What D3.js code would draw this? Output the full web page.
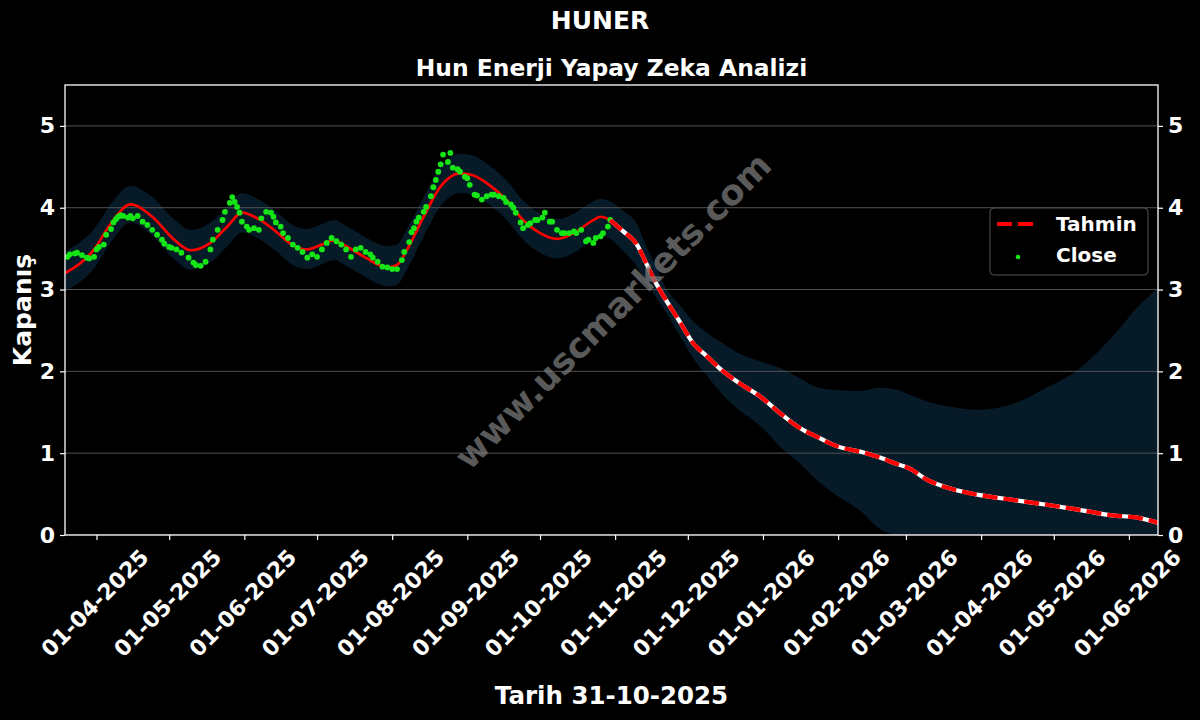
<!DOCTYPE html>
<html><head><meta charset="utf-8">
<script src="https://cdn.jsdelivr.net/npm/d3@7"></script>
<style>
body{margin:0;background:#000;}
svg{display:block;}
text{font-family:"DejaVu Sans",sans-serif;font-weight:bold;fill:#fff;}
</style>
</head><body>
<svg id="c" width="1200" height="720"></svg>
<script>
// ---------- DATA ----------
const closeDates = ["2025-03-20","2025-03-21","2025-03-23","2025-03-24","2025-03-26","2025-03-28","2025-03-29","2025-03-31","2025-04-01","2025-04-02","2025-04-04","2025-04-05","2025-04-07","2025-04-08","2025-04-09","2025-04-10","2025-04-11","2025-04-12","2025-04-14","2025-04-15","2025-04-16","2025-04-18","2025-04-20","2025-04-22","2025-04-24","2025-04-26","2025-04-28","2025-04-29","2025-05-01","2025-05-02","2025-05-04","2025-05-06","2025-05-09","2025-05-11","2025-05-12","2025-05-14","2025-05-16","2025-05-18","2025-05-19","2025-05-21","2025-05-23","2025-05-24","2025-05-26","2025-05-27","2025-05-28","2025-05-29","2025-05-30","2025-05-31","2025-06-02","2025-06-03","2025-06-05","2025-06-07","2025-06-08","2025-06-10","2025-06-12","2025-06-13","2025-06-14","2025-06-16","2025-06-17","2025-06-19","2025-06-21","2025-06-23","2025-06-25","2025-06-27","2025-06-29","2025-07-01","2025-07-03","2025-07-05","2025-07-07","2025-07-09","2025-07-11","2025-07-13","2025-07-15","2025-07-17","2025-07-19","2025-07-21","2025-07-23","2025-07-24","2025-07-26","2025-07-28","2025-07-30","2025-08-01","2025-08-03","2025-08-05","2025-08-06","2025-08-08","2025-08-09","2025-08-10","2025-08-11","2025-08-12","2025-08-14","2025-08-15","2025-08-17","2025-08-18","2025-08-19","2025-08-20","2025-08-21","2025-08-22","2025-08-24","2025-08-25","2025-08-26","2025-08-28","2025-08-29","2025-08-31","2025-09-01","2025-09-02","2025-09-04","2025-09-05","2025-09-07","2025-09-09","2025-09-11","2025-09-12","2025-09-14","2025-09-16","2025-09-17","2025-09-19","2025-09-20","2025-09-21","2025-09-23","2025-09-24","2025-09-26","2025-09-27","2025-09-29","2025-09-30","2025-10-02","2025-10-03","2025-10-05","2025-10-06","2025-10-08","2025-10-10","2025-10-11","2025-10-13","2025-10-15","2025-10-16","2025-10-18","2025-10-20","2025-10-21","2025-10-23","2025-10-24","2025-10-26","2025-10-27","2025-10-29","2025-10-30"];
const closeValues = [3.40,3.43,3.44,3.45,3.42,3.39,3.38,3.40,3.49,3.52,3.55,3.67,3.74,3.82,3.86,3.89,3.91,3.90,3.88,3.90,3.87,3.90,3.83,3.79,3.73,3.67,3.61,3.56,3.52,3.51,3.49,3.45,3.39,3.33,3.30,3.29,3.34,3.49,3.61,3.73,3.85,3.95,4.06,4.13,4.07,4.01,3.94,3.83,3.77,3.73,3.75,3.73,3.87,3.95,3.94,3.89,3.82,3.77,3.69,3.63,3.55,3.51,3.46,3.39,3.43,3.40,3.49,3.57,3.63,3.59,3.55,3.49,3.40,3.49,3.51,3.46,3.43,3.39,3.34,3.28,3.27,3.25,3.25,3.36,3.46,3.58,3.70,3.75,3.83,3.88,3.95,4.01,4.14,4.25,4.34,4.44,4.53,4.65,4.56,4.67,4.49,4.47,4.44,4.38,4.36,4.28,4.16,4.15,4.10,4.14,4.16,4.16,4.14,4.12,4.07,4.04,4.00,3.94,3.82,3.75,3.79,3.81,3.85,3.85,3.88,3.94,3.83,3.83,3.73,3.69,3.69,3.69,3.71,3.69,3.73,3.59,3.61,3.57,3.63,3.65,3.69,3.77,3.85];

const fitDates = ["2025-03-19","2025-03-31","2025-04-07","2025-04-15","2025-04-24","2025-05-03","2025-05-10","2025-05-18","2025-05-25","2025-05-31","2025-06-07","2025-06-14","2025-06-21","2025-06-27","2025-07-03","2025-07-08","2025-07-13","2025-07-21","2025-07-30","2025-08-03","2025-08-07","2025-08-14","2025-08-21","2025-08-29","2025-09-03","2025-09-10","2025-09-17","2025-09-24","2025-10-01","2025-10-08","2025-10-15","2025-10-22","2025-10-26","2025-10-30"];
const fitValues = [3.20,3.49,3.81,4.04,3.89,3.61,3.48,3.57,3.77,3.94,3.86,3.71,3.54,3.49,3.55,3.60,3.53,3.39,3.27,3.30,3.48,3.89,4.26,4.42,4.40,4.28,4.10,3.85,3.69,3.62,3.69,3.83,3.89,3.85];
const fitUpper = [3.47,3.74,4.05,4.27,4.13,3.86,3.73,3.82,4.01,4.18,4.10,3.96,3.79,3.74,3.80,3.85,3.78,3.64,3.53,3.55,3.73,4.13,4.50,4.66,4.64,4.52,4.34,4.09,3.93,3.86,3.93,4.06,4.11,4.08];
const fitLower = [2.98,3.26,3.58,3.82,3.66,3.37,3.24,3.33,3.53,3.70,3.62,3.47,3.30,3.25,3.31,3.36,3.29,3.15,3.04,3.06,3.24,3.65,4.02,4.18,4.16,4.04,3.86,3.61,3.45,3.38,3.45,3.59,3.65,3.62];

const forecastDates = ["2025-10-30","2025-11-04","2025-11-10","2025-11-14","2025-11-18","2025-11-22","2025-11-28","2025-12-03","2025-12-09","2025-12-14","2025-12-22","2025-12-31","2026-01-08","2026-01-16","2026-01-24","2026-02-01","2026-02-10","2026-02-18","2026-02-26","2026-03-02","2026-03-10","2026-03-19","2026-03-31","2026-04-14","2026-04-28","2026-05-11","2026-05-25","2026-06-05","2026-06-13"];
const forecastValues = [3.85,3.72,3.55,3.31,3.07,2.87,2.59,2.35,2.18,2.04,1.86,1.69,1.49,1.31,1.19,1.08,1.02,0.95,0.86,0.82,0.67,0.57,0.49,0.43,0.37,0.31,0.24,0.21,0.15];
const forecastUpper = [4.08,3.97,3.80,3.52,3.27,3.02,2.80,2.62,2.47,2.37,2.22,2.12,2.04,1.92,1.80,1.77,1.76,1.80,1.77,1.72,1.63,1.57,1.53,1.60,1.80,2.02,2.42,2.80,3.02];
const forecastLower = [3.62,3.48,3.28,3.08,2.90,2.72,2.42,2.17,1.94,1.76,1.53,1.33,1.08,0.88,0.65,0.47,0.30,0.08,0,0,0,0,0,0,0,0,0,0,0];

const yTicks = [0,1,2,3,4,5];
const xTickDates = ["2025-04-01","2025-05-01","2025-06-01","2025-07-01","2025-08-01","2025-09-01","2025-10-01","2025-11-01","2025-12-01","2026-01-01","2026-02-01","2026-03-01","2026-04-01","2026-05-01","2026-06-01"];
const xDomain = ["2025-03-19","2026-06-13"];
const yDomain = [0, 5.5];

const titleText = "HUNER";
const subtitleText = "Hun Enerji Yapay Zeka Analizi";
const xLabelText = "Tarih 31-10-2025";
const yLabelText = "Kapanış";
const legendLabels = ["Tahmin", "Close"];
const watermarkText = "www.uscmarkets.com";

// ---------- LAYOUT ----------
const parse = d3.timeParse("%Y-%m-%d");
const fmt = d3.timeFormat("%d-%m-%Y");
const L = 65, R = 1158, T = 85, B = 535;
const x = d3.scaleTime().domain(xDomain.map(parse)).range([L, R]);
const y = d3.scaleLinear().domain(yDomain).range([B, T]);

const svg = d3.select("#c");
svg.append("rect").attr("width",1200).attr("height",720).attr("fill","#000");

svg.append("defs").append("clipPath").attr("id","clip")
  .append("rect").attr("x",L).attr("y",T).attr("width",R-L).attr("height",B-T);

const plot = svg.append("g").attr("clip-path","url(#clip)");

// band
const bandData = fitDates.map((d,i)=>({d:parse(d),u:fitUpper[i],l:fitLower[i]}))
  .concat(forecastDates.slice(1).map((d,i)=>({d:parse(d),u:forecastUpper[i+1],l:forecastLower[i+1]})));
plot.append("path").datum(bandData)
  .attr("fill","#071a28")
  .attr("d", d3.area().x(p=>x(p.d)).y0(p=>y(p.l)).y1(p=>y(p.u)).curve(d3.curveMonotoneX));

// grid
plot.append("g").selectAll("line").data(yTicks).join("line")
  .attr("x1",L).attr("x2",R).attr("y1",d=>y(d)).attr("y2",d=>y(d))
  .attr("stroke","#5a5a5a").attr("stroke-width",0.9);

// watermark
svg.append("text").text(watermarkText)
  .attr("transform","translate(613,311) rotate(-45)")
  .attr("text-anchor","middle").attr("dominant-baseline","central")
  .style("font-size","35px").style("fill","#808080").style("opacity",0.7);

// fit line
const fitData = fitDates.map((d,i)=>({d:parse(d),v:fitValues[i]}));
plot.append("path").datum(fitData)
  .attr("fill","none").attr("stroke","#ff0000").attr("stroke-width",2.7)
  .attr("d", d3.line().x(p=>x(p.d)).y(p=>y(p.v)).curve(d3.curveMonotoneX));

// close dots
plot.append("g").selectAll("circle").data(closeDates.map((d,i)=>({d:parse(d),v:closeValues[i]}))).join("circle")
  .attr("cx",p=>x(p.d)).attr("cy",p=>y(p.v)).attr("r",2.9).attr("fill","#16e616");

// forecast
const fcData = forecastDates.map((d,i)=>({d:parse(d),v:forecastValues[i]}));
const fcLine = d3.line().x(p=>x(p.d)).y(p=>y(p.v)).curve(d3.curveMonotoneX);
plot.append("path").datum(fcData).attr("fill","none").attr("stroke","#fff").attr("stroke-width",4.2).attr("d",fcLine);
plot.append("path").datum(fcData).attr("fill","none").attr("stroke","#ff0000").attr("stroke-width",4.2)
  .attr("stroke-dasharray","15,6").attr("d",fcLine);

// frame
svg.append("rect").attr("x",L).attr("y",T).attr("width",R-L).attr("height",B-T)
  .attr("fill","none").attr("stroke","#fff").attr("stroke-width",1.3);

// y axes
const yl = svg.append("g").attr("transform",`translate(${L},0)`)
  .call(d3.axisLeft(y).tickValues(yTicks).tickSize(5).tickPadding(5).tickFormat(d3.format("d")));
const yr = svg.append("g").attr("transform",`translate(${R},0)`)
  .call(d3.axisRight(y).tickValues(yTicks).tickSize(5).tickPadding(5).tickFormat(d3.format("d")));
[yl,yr].forEach(g=>{
  g.select(".domain").remove();
  g.selectAll("line").attr("stroke","#fff").attr("stroke-width",1.2);
  g.selectAll("text").style("font-size","22px").style("font-family","DejaVu Sans").style("font-weight","bold").attr("fill","#fff");
});

// x axis
const xa = svg.append("g").attr("transform",`translate(0,${B})`)
  .call(d3.axisBottom(x).tickValues(xTickDates.map(parse)).tickSize(5).tickFormat(fmt));
xa.select(".domain").remove();
xa.selectAll("line").attr("stroke","#fff").attr("stroke-width",1.2);
xa.selectAll("text").each(function(){
  const t = d3.select(this);
  t.style("font-size","22px").style("font-family","DejaVu Sans").style("font-weight","bold").attr("fill","#fff");
  const w = this.getComputedTextLength();
  const c = 12 + (w + 18) * Math.SQRT1_2 / 2;
  t.attr("y",null).attr("dy",null).attr("text-anchor","middle").attr("dominant-baseline","central")
   .attr("transform",`translate(-2,${c}) rotate(-45)`);
});

// titles
svg.append("text").text(titleText).attr("x",600).attr("y",29).attr("text-anchor","middle").style("font-size","25px");
svg.append("text").text(subtitleText).attr("x",(L+R)/2).attr("y",76).attr("text-anchor","middle").style("font-size","23.4px");
svg.append("text").text(xLabelText).attr("x",(L+R)/2).attr("y",704).attr("text-anchor","middle").style("font-size","24.5px");
svg.append("text").text(yLabelText).attr("transform",`translate(31,${(T+B)/2}) rotate(-90)`).attr("text-anchor","middle").style("font-size","25px");

// legend
const lg = svg.append("g");
lg.append("rect").attr("x",990).attr("y",208).attr("width",158).attr("height",67).attr("rx",4)
  .attr("fill","#000").attr("stroke","#555").attr("stroke-width",1);
lg.append("line").attr("x1",997).attr("x2",1036).attr("y1",224).attr("y2",224)
  .attr("stroke","#ff0000").attr("stroke-width",4.2).attr("stroke-dasharray","15,6");
lg.append("circle").attr("cx",1018).attr("cy",257).attr("r",2.3).attr("fill","#16e616");
lg.selectAll("text.lt").data(legendLabels).join("text").attr("class","lt")
  .text(d=>d).attr("x",1056).attr("y",(d,i)=>224 + i*31).attr("dominant-baseline","central")
  .style("font-size","20px");
</script>
</body></html>
